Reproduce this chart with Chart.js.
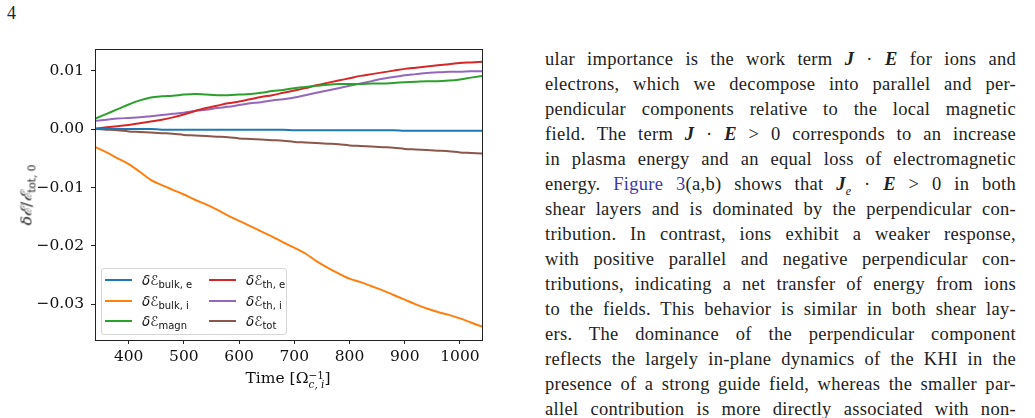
<!DOCTYPE html>
<html>
<head>
<meta charset="utf-8">
<script src="https://cdn.jsdelivr.net/npm/chart.js@4/dist/chart.umd.min.js"></script>
<style>
  body { margin: 0; background: #fff; width: 1035px; height: 418px; overflow: hidden; position: relative; }
  #page { position: absolute; left: 7px; top: 3px; font: 18px "Liberation Serif", serif; color: #222; }
  #wrap { position: absolute; left: 0; top: 0; width: 500px; height: 418px; }
  .ytitle { position: absolute; left: 26px; top: 195px; transform: translate(-50%, -50%) rotate(-90deg);
            font: 15.5px "DejaVu Serif", serif; white-space: nowrap; color: #111; }
  .xtitle { position: absolute; left: 288px; top: 369px; transform: translateX(-50%);
            font: 15.5px "DejaVu Serif", serif; white-space: nowrap; color: #111; }
  .ss { display: inline-block; vertical-align: -5px; line-height: 9px; font-size: 10.5px; text-align: left; }
  .legend { position: absolute; left: 101px; top: 268px; width: 184px; height: 65px;
            border: 1px solid #d6d6d6; border-radius: 3px; background: rgba(255,255,255,0.85); }
  .item { position: absolute; height: 20px; font: 13.5px "DejaVu Sans", sans-serif; color: #111; white-space: nowrap; }
  .item i.h { position: absolute; left: 0; top: 9px; width: 27px; height: 2px; }
  .item span.t { position: absolute; left: 37px; top: 0; line-height: 20px; }
  .item sub { font-size: 10px; vertical-align: -3px; }
  #text { position: absolute; left: 545px; top: 47px; width: 471px; font: 18.5px "Liberation Serif", serif;
          letter-spacing: 0.3px; color: #222; }
  #text div { height: 25px; line-height: 25px; text-align: justify; text-align-last: justify; white-space: nowrap; }
  .m { font-weight: bold; font-style: italic; }
  .link { color: #3a3aa6; }
</style>
</head>
<body>
<div id="page">4</div>
<div id="wrap">
  <canvas id="myChart" width="500" height="418"></canvas>
  <div class="ytitle"><i>δℰ</i>/<i>ℰ</i><sub style="font-size:10.5px">tot, 0</sub></div>
  <div class="xtitle">Time [Ω<span class="ss"><span>−1</span><br><i>c, i</i></span>]</div>
  <div class="legend" id="legend"></div>
</div>
<div id="text">
  <div>ular importance is the work term <span class="m">J</span> · <span class="m">E</span> for ions and</div>
  <div>electrons, which we decompose into parallel and per-</div>
  <div>pendicular components relative to the local magnetic</div>
  <div>field. The term <span class="m">J</span> · <span class="m">E</span> &gt; 0 corresponds to an increase</div>
  <div>in plasma energy and an equal loss of electromagnetic</div>
  <div>energy. <span class="link">Figure 3</span>(a,b) shows that <span class="m">J</span><sub style="font-size:12px"><i>e</i></sub> · <span class="m">E</span> &gt; 0 in both</div>
  <div>shear layers and is dominated by the perpendicular con-</div>
  <div>tribution. In contrast, ions exhibit a weaker response,</div>
  <div>with positive parallel and negative perpendicular con-</div>
  <div>tributions, indicating a net transfer of energy from ions</div>
  <div>to the fields. This behavior is similar in both shear lay-</div>
  <div>ers. The dominance of the perpendicular component</div>
  <div>reflects the largely in-plane dynamics of the KHI in the</div>
  <div>presence of a strong guide field, whereas the smaller par-</div>
  <div>allel contribution is more directly associated with non-</div>
</div>
<script>
// time axis, in 1/Omega_ci
const times = [340, 360, 380, 400, 420, 440, 460, 480, 500, 520, 540, 560, 580, 600, 620, 640, 660, 680,
               700, 720, 740, 760, 780, 800, 820, 840, 860, 880, 900, 920, 940, 960, 980, 1000, 1020, 1040];

const bulkE = [0.0000, 0.0000, 0.0000, 0.0000, 0.0000, 0.0000, -0.0001, -0.0001, -0.0001, -0.0001, -0.0001, -0.0001,
               -0.0001, -0.0001, -0.0001, -0.0001, -0.0001, -0.0001, -0.0002, -0.0002, -0.0002, -0.0002, -0.0002, -0.0002,
               -0.0002, -0.0002, -0.0002, -0.0002, -0.0003, -0.0003, -0.0003, -0.0003, -0.0003, -0.0003, -0.0003, -0.0003];

const bulkI = [-0.0031, -0.0040, -0.0050, -0.0060, -0.0073, -0.0087, -0.0096, -0.0104, -0.0112, -0.0121, -0.0129, -0.0138,
               -0.0148, -0.0157, -0.0166, -0.0175, -0.0184, -0.0194, -0.0203, -0.0213, -0.0226, -0.0237, -0.0247, -0.0256,
               -0.0262, -0.0269, -0.0276, -0.0284, -0.0292, -0.0300, -0.0307, -0.0313, -0.0318, -0.0324, -0.0331, -0.0338];

const magn = [0.0018, 0.0026, 0.0034, 0.0042, 0.0049, 0.0054, 0.0056, 0.0057, 0.0059, 0.0060, 0.0059, 0.0058,
              0.0058, 0.0059, 0.0060, 0.0062, 0.0065, 0.0067, 0.0070, 0.0072, 0.0074, 0.0076, 0.0077, 0.0077,
              0.0077, 0.0078, 0.0078, 0.0079, 0.0080, 0.0081, 0.0082, 0.0082, 0.0083, 0.0085, 0.0088, 0.0091];

const thE = [0.0001, 0.0003, 0.0005, 0.0007, 0.0010, 0.0013, 0.0016, 0.0020, 0.0025, 0.0031, 0.0036, 0.0040,
             0.0044, 0.0047, 0.0051, 0.0055, 0.0058, 0.0062, 0.0066, 0.0070, 0.0075, 0.0079, 0.0083, 0.0087,
             0.0091, 0.0094, 0.0097, 0.0100, 0.0103, 0.0105, 0.0107, 0.0109, 0.0111, 0.0113, 0.0114, 0.0115];

const thI = [0.0014, 0.0016, 0.0018, 0.0019, 0.0020, 0.0022, 0.0024, 0.0026, 0.0028, 0.0031, 0.0033, 0.0036,
             0.0038, 0.0041, 0.0044, 0.0046, 0.0049, 0.0051, 0.0054, 0.0058, 0.0062, 0.0066, 0.0070, 0.0074,
             0.0078, 0.0082, 0.0086, 0.0089, 0.0092, 0.0094, 0.0096, 0.0097, 0.0098, 0.0098, 0.0099, 0.0099];

const tot = [0.0000, -0.0001, -0.0002, -0.0004, -0.0005, -0.0006, -0.0007, -0.0008, -0.0010, -0.0011, -0.0012, -0.0013,
             -0.0014, -0.0016, -0.0017, -0.0018, -0.0019, -0.0020, -0.0022, -0.0023, -0.0024, -0.0025, -0.0026, -0.0028,
             -0.0029, -0.0030, -0.0031, -0.0032, -0.0034, -0.0035, -0.0036, -0.0037, -0.0038, -0.0040, -0.0041, -0.0042];

const xTicks = [400, 500, 600, 700, 800, 900, 1000];
const yTicks = [-0.03, -0.02, -0.01, 0.00, 0.01];

// legend entries: [label html, colour]
const series = [
    { name: "bulk, e", html: "<i>δℰ</i><sub>bulk, e</sub>", data: bulkE, color: "#1f77b4" },
    { name: "bulk, i", html: "<i>δℰ</i><sub>bulk, i</sub>", data: bulkI, color: "#ff7f0e" },
    { name: "magn", html: "<i>δℰ</i><sub>magn</sub>", data: magn, color: "#2ca02c" },
    { name: "th, e", html: "<i>δℰ</i><sub>th, e</sub>", data: thE, color: "#d62728" },
    { name: "th, i", html: "<i>δℰ</i><sub>th, i</sub>", data: thI, color: "#9467bd" },
    { name: "tot", html: "<i>δℰ</i><sub>tot</sub>", data: tot, color: "#8c564b" },
];

const frame = {
    id: "frame",
    afterDraw(chart) {
        const a = chart.chartArea, c = chart.ctx;
        c.save();
        c.strokeStyle = "#222";
        c.lineWidth = 1;
        c.strokeRect(Math.round(a.left) + 0.5, Math.round(a.top) + 0.5, Math.round(a.right - a.left), Math.round(a.bottom - a.top));
        c.restore();
    },
};

const tickFont = { family: "DejaVu Serif", size: 15.5 };

var ctx = document.getElementById("myChart").getContext("2d");
var myChart = new Chart(ctx, {
    type: "line",
    data: {
        datasets: series.map((s) => ({
            label: s.name,
            data: times.map((t, i) => ({ x: t, y: s.data[i] })),
            borderColor: s.color,
            borderWidth: 2,
            pointRadius: 0,
            cubicInterpolationMode: "monotone",
            fill: false,
        })),
    },
    options: {
        responsive: false,
        animation: false,
        devicePixelRatio: 1,
        layout: { padding: { top: 49, right: 18, left: 0, bottom: 0 } },
        plugins: { legend: { display: false }, tooltip: { enabled: false } },
        scales: {
            x: {
                type: "linear",
                min: 339,
                max: 1040,
                afterFit: (scale) => { scale.height = 78; },
                afterBuildTicks: (scale) => { scale.ticks = xTicks.map((v) => ({ value: v })); },
                grid: { display: true, drawOnChartArea: false, drawTicks: true, tickLength: 4, tickColor: "#222", color: "#222" },
                border: { display: false },
                ticks: { font: tickFont, color: "#111", padding: 4, maxRotation: 0, callback: (v) => String(v) },
            },
            y: {
                min: -0.0361,
                max: 0.0137,
                afterFit: (scale) => { scale.width = 95; },
                afterBuildTicks: (scale) => { scale.ticks = yTicks.map((v) => ({ value: v })); },
                grid: { display: true, drawOnChartArea: false, drawTicks: true, tickLength: 4, tickColor: "#222", color: "#222" },
                border: { display: false },
                ticks: { font: tickFont, color: "#111", padding: 7, callback: (v) => v.toFixed(2).replace("-", "−") },
            },
        },
    },
    plugins: [frame],
});

// legend, two columns of three, inside the axes
const legend = document.getElementById("legend");
series.forEach((s, i) => {
    const col = Math.floor(i / 3), row = i % 3;
    const el = document.createElement("div");
    el.className = "item";
    el.style.left = (3 + col * 104) + "px";
    el.style.top = (1 + row * 20.7) + "px";
    el.innerHTML = '<i class="h" style="background:' + s.color + '"></i><span class="t">' + s.html + "</span>";
    legend.appendChild(el);
});
</script>
</body>
</html>
